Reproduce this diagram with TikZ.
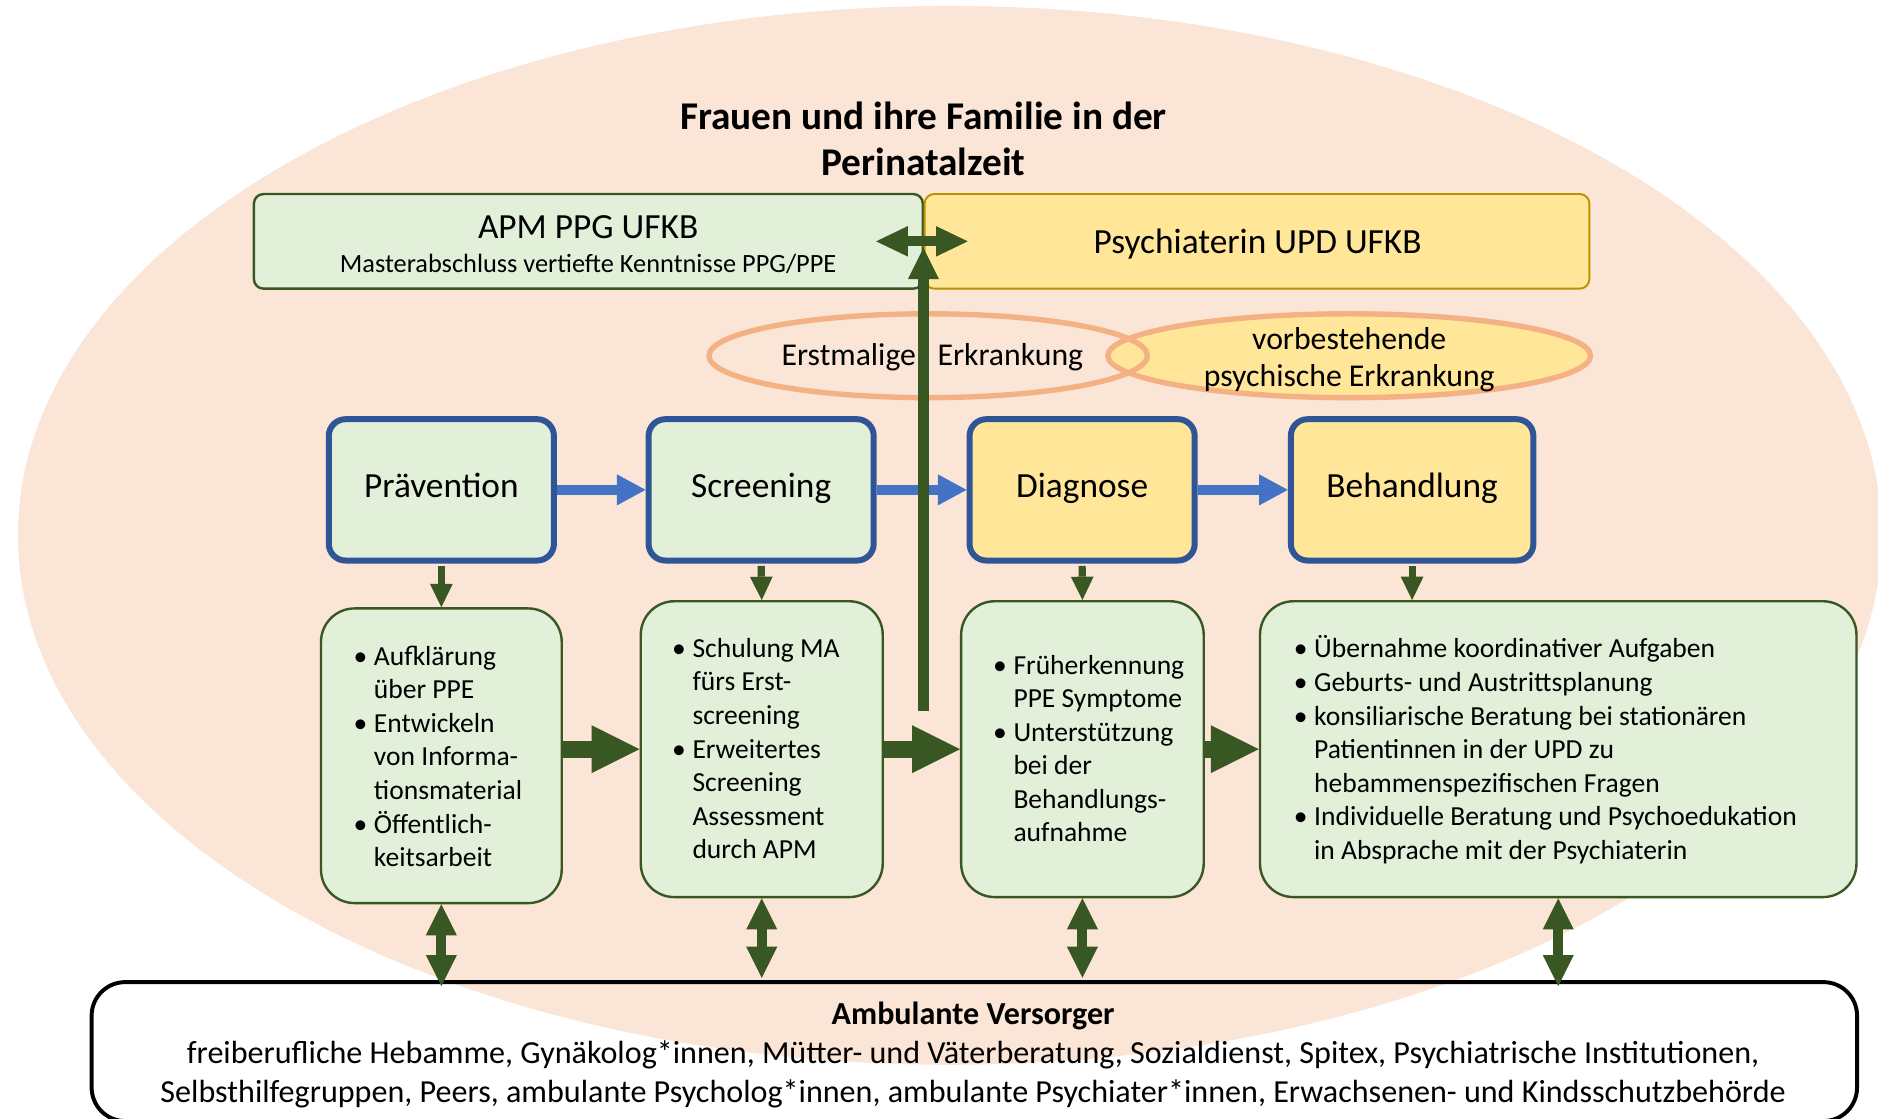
\documentclass[tikz,border=0pt]{standalone}
\usepackage{fontspec}
\setmainfont{Carlito}
\usetikzlibrary{arrows.meta,shapes.geometric,calc}
\definecolor{peach}{HTML}{FBE5D6}
\definecolor{ltgreen}{HTML}{E2F0D9}
\definecolor{dkgreen}{HTML}{385723}
\definecolor{ltyellow}{HTML}{FFE699}
\definecolor{goldbd}{HTML}{BF9000}
\definecolor{bluebd}{HTML}{2F5597}
\definecolor{bluearr}{HTML}{4472C4}
\definecolor{salmon}{HTML}{F4B183}
\newcommand{\fs}[2]{\fontsize{#1}{#2}\selectfont}
\newcommand{\bl}{\makebox[17pt][l]{\textbullet}}
\newcommand{\ind}{\hspace*{17pt}}
\begin{document}
\begin{tikzpicture}[x=1pt,y=-1pt,
  procbox/.style={draw=bluebd, line width=5pt, rounded corners=14pt, minimum width=188pt, minimum height=118pt, inner sep=0pt, font=\fs{29.5}{36}, text height=18pt, text depth=6pt},
  contbox/.style={draw=dkgreen, fill=ltgreen, line width=2pt, rounded corners=28pt, inner sep=0pt},
  ctext/.style={font=\fs{23}{28}, align=left, anchor=west, inner sep=0pt},
  blockarr/.style={color=dkgreen, line width=14pt, -{Triangle[length=40pt,width=40pt,line width=0pt]}},
  bluearrow/.style={color=bluearr, line width=8.5pt, -{Triangle[length=24pt,width=26pt,line width=0pt]}},
  smallarr/.style={color=dkgreen, line width=6pt, -{Triangle[length=19.5pt,width=19pt,line width=0pt]}},
  dblarr/.style={color=dkgreen, line width=8.4pt, {Triangle[length=26pt,width=26pt,line width=0pt]}-{Triangle[length=26pt,width=26pt,line width=0pt]}},
  ringstyle/.style={ellipse, draw=salmon, line width=4.5pt, minimum height=70pt, inner sep=0pt}
]
\useasboundingbox (0,0) rectangle (1568,934);
% background ellipse
\fill[peach] (793,447) ellipse [x radius=778pt, y radius=442pt];

% title
\node[font=\bfseries\fs{32.8}{39}, align=center] (title) at (771,116) {Frauen und ihre Familie in der\\Perinatalzeit};

% top boxes
\node[draw=dkgreen, fill=ltgreen, line width=2pt, rounded corners=8pt, minimum width=558.5pt, minimum height=79pt, inner sep=0pt] (apm) at (491.25,201.5) {};
\node[draw=goldbd, fill=ltyellow, line width=1.6pt, rounded corners=8pt, minimum width=555pt, minimum height=79pt, inner sep=0pt] (psy) at (1049.5,201.5) {};
\node[font=\fs{29.5}{36}] (apmt) at (491,190) {APM PPG UFKB};
\node[font=\fs{22}{26}] (apms) at (491,220) {Masterabschluss vertiefte Kenntnisse PPG/PPE};
\node[font=\fs{29.5}{36}] (psyt) at (1050,204) {Psychiaterin UPD UFKB};

% ellipses
\node[ringstyle, fill=ltyellow, minimum width=403pt] (e2) at (1126.5,297) {};
\node[ringstyle, minimum width=366pt] (e1) at (775,297) {};
\node[font=\fs{26.5}{31}] (e1t) at (778.5,298) {Erstmalige\hspace{12pt} Erkrankung};
\node[font=\fs{26.5}{31}, align=center] (e2t) at (1126.5,300) {vorbestehende\\psychische Erkrankung};

% process boxes
\node[procbox, fill=ltgreen] (prev) at (368.5,409) {Prävention};
\node[procbox, fill=ltgreen] (scr) at (635.5,409) {Screening};
\node[procbox, fill=ltyellow] (dia) at (903.5,409) {Diagnose};
\node[procbox, fill=ltyellow, minimum width=202.5pt] (beh) at (1179,409) {Behandlung};

% content boxes
\node[contbox, minimum width=201pt, minimum height=246pt] (g1) at (368.5,631) {};
\node[contbox, minimum width=202pt, minimum height=247pt] (g2) at (636,625.5) {};
\node[contbox, minimum width=202.5pt, minimum height=247pt] (g3) at (903.75,625.5) {};
\node[contbox, minimum width=498pt, minimum height=247pt] (g4) at (1301,625.5) {};

\node[ctext] (t1) at (295,631.5) {\bl Aufklärung\\\ind über PPE\\\bl Entwickeln\\\ind von Informa-\\\ind tionsmaterial\\\bl Öffentlich-\\\ind keitsarbeit};
\node[ctext] (t2) at (561,625) {\bl Schulung MA\\\ind fürs Erst-\\\ind screening\\\bl Erweitertes\\\ind Screening\\\ind Assessment\\\ind durch APM};
\node[ctext] (t3) at (829,625) {\bl Früherkennung\\\ind PPE Symptome\\\bl Unterstützung\\\ind bei der\\\ind Behandlungs-\\\ind aufnahme};
\node[ctext] (t4) at (1080,626) {\bl Übernahme koordinativer Aufgaben\\\bl Geburts- und Austrittsplanung\\\bl konsiliarische Beratung bei stationären\\\ind Patientinnen in der UPD zu\\\ind hebammenspezifischen Fragen\\\bl Individuelle Beratung und Psychoedukation\\\ind in Absprache mit der Psychiaterin};

% bottom box
\node[draw=black, line width=3.3pt, rounded corners=28pt, minimum width=1474pt, minimum height=116pt, inner sep=0pt] (amb) at (813.5,878) {};
\node[font=\fs{26.8}{32.5}, align=center] (ambt) at (812.5,881) {\textbf{Ambulante Versorger}\\freiberufliche Hebamme, Gynäkolog*innen, Mütter- und Väterberatung, Sozialdienst, Spitex, Psychiatrische Institutionen,\\Selbsthilfegruppen, Peers, ambulante Psycholog*innen, ambulante Psychiater*innen, Erwachsenen- und Kindsschutzbehörde};

% blue process arrows
\draw[bluearrow] (prev.east) -- (scr.west);
\draw[bluearrow] (scr.east) -- (dia.west);
\draw[bluearrow] (dia.east) -- (beh.west);

% small down arrows
\draw[smallarr] ($(prev.south)+(0,2)$) -- (g1.north);
\draw[smallarr] ($(scr.south)+(0,2)$) -- (g2.north);
\draw[smallarr] ($(dia.south)+(0,2)$) -- (g3.north);
\draw[smallarr] ($(beh.south)+(0,2)$) -- (beh.south |- g4.north);

% block arrows between content boxes
\draw[blockarr] (g1.east |- g2.center) -- (g2.west);
\draw[blockarr] (g2.east) -- (g3.west);
\draw[blockarr] (g3.east) -- (g4.west);

% double arrows to bottom box
\draw[dblarr] (g1.south) -- ($(g1.south |- amb.north)+(0,5)$);
\draw[dblarr] (g2.south) -- ($(g2.south |- amb.north)+(0,-2)$);
\draw[dblarr] (g3.south) -- ($(g3.south |- amb.north)+(0,-2)$);
\draw[dblarr] (g4.south) -- ($(g4.south |- amb.north)+(0,5)$);

% vertical arrow and top double arrow
\coordinate (vb) at (771,594);
\coordinate (vt) at (771,207);
\coordinate (hl) at (731.5,201.5);
\coordinate (hr) at (808,201.5);
\draw[color=dkgreen, line width=8.5pt, -{Triangle[length=26pt,width=26pt,line width=0pt]}] (vb) -- (vt);
\draw[color=dkgreen, line width=8.5pt, {Triangle[length=26.5pt,width=25.5pt,line width=0pt]}-{Triangle[length=26.5pt,width=25.5pt,line width=0pt]}] (hl) -- (hr);
\end{tikzpicture}
\end{document}
